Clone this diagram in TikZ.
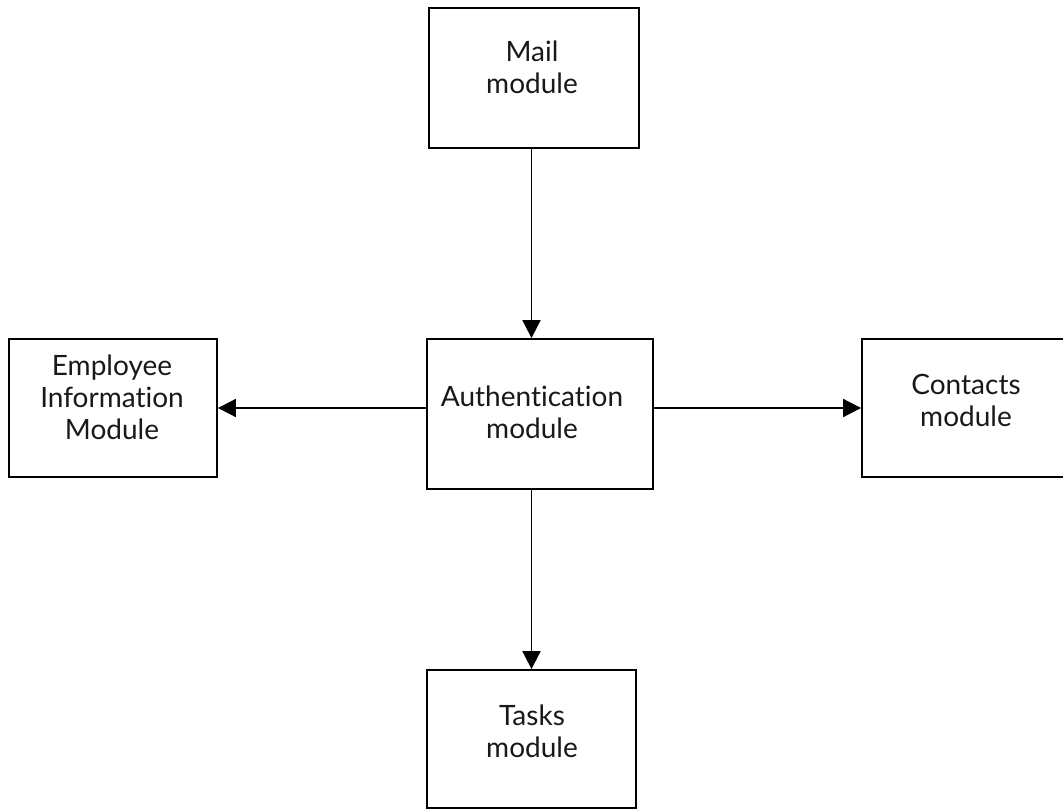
\documentclass[tikz,border=0pt]{standalone}
\usepackage{fontspec}
\setmainfont{Lato}[Ligatures={NoCommon}]
\usetikzlibrary{arrows.meta}
\begin{document}
\begin{tikzpicture}[x=1pt,y=-1pt,
  box/.style={draw=black,line width=1.8pt,rectangle,inner sep=0pt},
  txt/.style={align=center,inner sep=0pt,font=\fontsize{28}{32}\selectfont,text=black!90},
  conn/.style={line width=1.8pt,-{Triangle[length=18pt,width=18pt]}}]
\useasboundingbox (0,0) rectangle (1063,811);
\fill[white] (0,0) rectangle (1063,811);
% boxes
\node[box,minimum width=210pt,minimum height=140pt] (mail) at (534,78) {};
\node[box,minimum width=208pt,minimum height=138pt] (emp) at (113,408) {};
\node[box,minimum width=226pt,minimum height=150pt] (auth) at (540,414) {};
\node[box,minimum width=216pt,minimum height=138pt] (con) at (970,408) {};
\node[box,minimum width=209pt,minimum height=138pt] (tasks) at (531.5,739) {};
% texts
\node[txt] (mailt) at (532,67) {Mail\\module};
\node[txt] (empt) at (112,397) {Employee\\Information\\Module};
\node[txt] (autht) at (532,412) {Authentication\\module};
\node[txt] (cont) at (966,400) {Contacts\\module};
\node[txt] (taskst) at (532,731) {Tasks\\module};
% connectors
\draw[conn] (mail.south -| tasks.north) -- (auth.north -| tasks.north);
\draw[conn] (auth.south -| tasks.north) -- (tasks.north);
\draw[conn] (auth.west |- emp.east) -- (emp.east);
\draw[conn] (auth.east |- con.west) -- (con.west);
\end{tikzpicture}
\end{document}
